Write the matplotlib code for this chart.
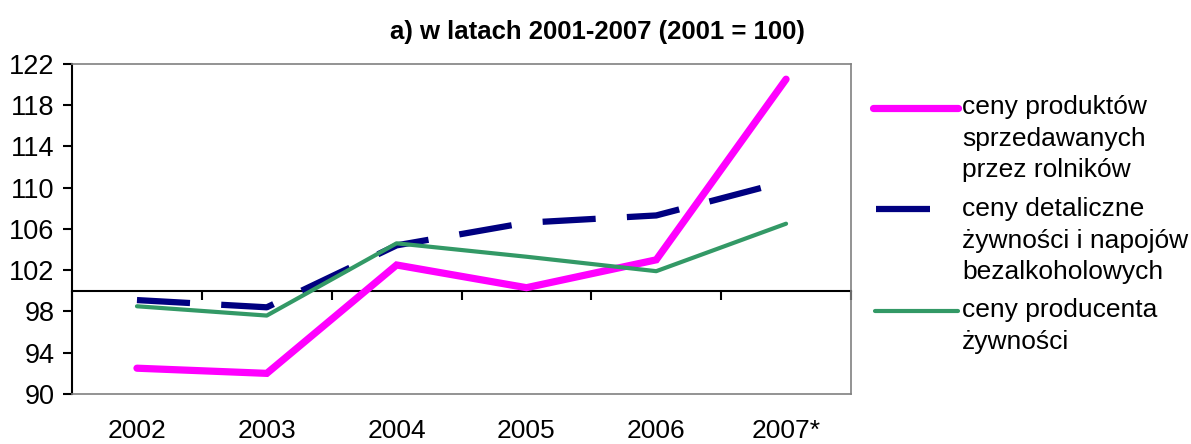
import matplotlib.pyplot as plt
from matplotlib.lines import Line2D

plt.rcParams['font.family'] = ['Liberation Sans', 'DejaVu Sans']

# Data
years = ["2002", "2003", "2004", "2005", "2006", "2007*"]
farm_prices = [92.5, 92.0, 102.5, 100.3, 103.0, 120.5]
retail_food = [99.1, 98.4, 104.4, 106.6, 107.3, 110.6]
producer_food = [98.5, 97.6, 104.6, 103.3, 101.9, 106.5]

labels = [
    "ceny produktów\nsprzedawanych\nprzez rolników",
    "ceny detaliczne\nżywności i napojów\nbezalkoholowych",
    "ceny producenta\nżywności",
]
colors = ["#FF00FF", "#000080", "#339966"]


def main():
    fig = plt.figure(figsize=(11.91, 4.44), dpi=100)
    ax = fig.add_axes([0.0605, 0.1126, 0.654, 0.7439])

    x = [i + 0.5 for i in range(len(years))]
    ax.plot(x, farm_prices, color=colors[0], lw=5.2, solid_capstyle="round",
            solid_joinstyle="miter")
    ax.plot(x, retail_food, color=colors[1], lw=4.5, dashes=(8.5, 5),
            dash_capstyle="butt")
    ax.plot(x, producer_food, color=colors[2], lw=3, solid_capstyle="round")

    ax.set_xlim(0, len(years))
    ax.set_ylim(90, 122)
    ax.set_yticks(range(90, 123, 4))
    ax.tick_params(axis="y", length=6.5, width=1.5, pad=6, labelsize=19.5)
    ax.set_xticks(x)
    ax.set_xticklabels(years)
    ax.tick_params(axis="x", length=0, pad=18, labelsize=19)

    for s in ["top", "right", "bottom"]:
        ax.spines[s].set_color("#808080")
        ax.spines[s].set_linewidth(1.2)
    ax.spines["left"].set_linewidth(1.5)

    # axis line crossing at 100
    sec = ax.secondary_xaxis((100 - 90) / (122 - 90))
    sec.set_xticks(range(len(years) + 1))
    sec.set_xticklabels([])
    sec.tick_params(direction="out", length=6.5, width=1.5)
    sec.spines["bottom"].set_linewidth(1.5)

    fig.text(0.502, 0.927, "a) w latach 2001-2007 (2001 = 100)",
             ha="center", va="center", fontsize=18.5, fontweight="bold")

    # legend
    H = 444.0
    W = 1191.0
    entries = [(873, 958, 108, 111),
               (876, 930, 209, 213),
               (875, 958, 311, 314)]
    widths = [5.2, 4.5, 3]
    for i, (x0, x1, yl, yt) in enumerate(entries):
        fig.add_artist(Line2D([x0 / W, x1 / W], [1 - yl / H, 1 - yl / H],
                              color=colors[i], lw=widths[i],
                              solid_capstyle="round" if i != 1 else "butt"))
        fig.text(962 / W, 1 - (yt - 16) / H, labels[i], ha="left", va="top",
                 fontsize=19, linespacing=1.4)

    fig.savefig("out.png", dpi=100)


if __name__ == "__main__":
    main()
